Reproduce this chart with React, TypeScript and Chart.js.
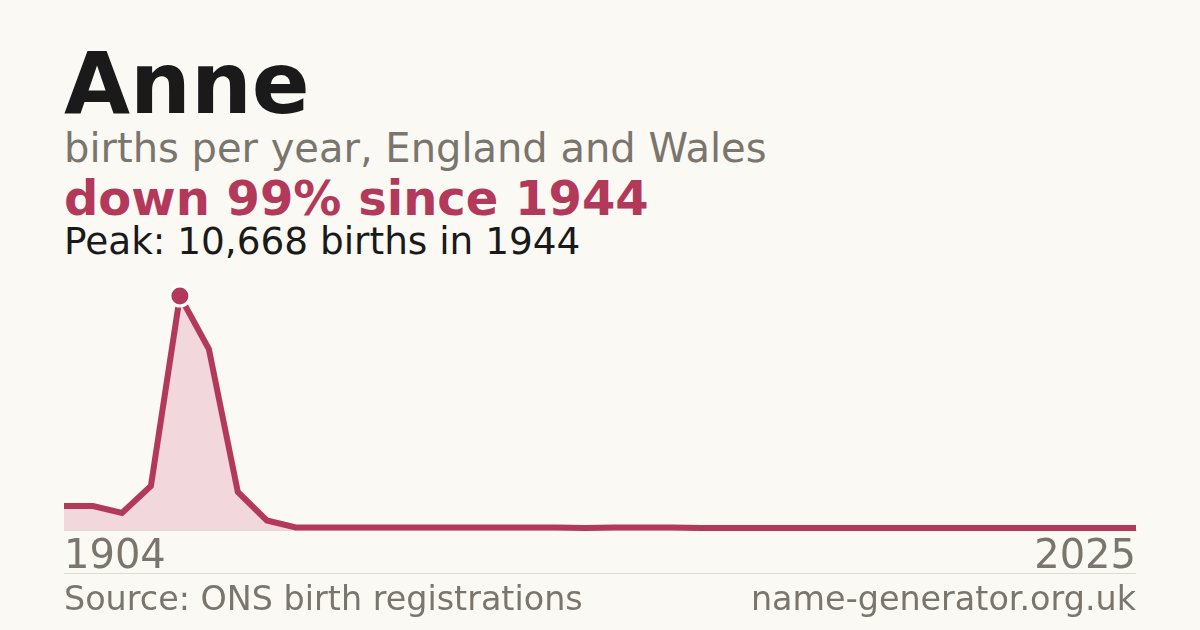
import { useEffect, useRef } from 'react'
import { Chart, registerables } from 'chart.js'

Chart.register(...registerables)

// years in the ONS series: decades first, then yearly
const years: string[] = [
  '1904', '1914', '1924', '1934', '1944', '1954', '1964', '1974', '1984', '1994',
  '1998', '1999', '2000', '2001', '2002', '2003', '2004', '2005', '2006', '2007',
  '2008', '2009', '2010', '2011', '2012', '2013', '2014', '2015', '2016', '2017',
  '2018', '2019', '2020', '2021', '2022', '2023', '2024', '2025',
]

// births per year
const births: number[] = [
  1094, 1094, 775, 2006, 10668, 8254, 1733, 433, 118, 116,
  115, 117, 114, 116, 115, 113, 114, 112, 92, 110,
  112, 111, 96, 94, 95, 93, 92, 94, 93, 91,
  92, 90, 91, 89, 90, 88, 87, 86,
]

const peakIndex = 4
const tickLabels: string[] = ['1904', '2025']

const RED = '#b3395a'
const FONT = '"DejaVu Sans", sans-serif'

function LineChart() {
  const ref = useRef<HTMLCanvasElement>(null)

  useEffect(() => {
    if (!ref.current) return
    const last = years.length - 1
    const chart = new Chart(ref.current, {
      type: 'line',
      data: {
        labels: years,
        datasets: [
          {
            data: births,
            borderColor: RED,
            borderWidth: 6,
            borderJoinStyle: 'miter',
            backgroundColor: '#f2d7dc',
            fill: 'origin',
            tension: 0,
            clip: false,
            pointRadius: births.map((_, i) => (i === peakIndex ? 10 : 0)),
            pointBackgroundColor: RED,
            pointBorderColor: '#ffffff',
            pointBorderWidth: 3,
          },
        ],
      },
      options: {
        animation: false,
        responsive: true,
        maintainAspectRatio: false,
        layout: { autoPadding: false, padding: { top: 16, left: 0, right: 0, bottom: 0 } },
        plugins: { legend: { display: false }, tooltip: { enabled: false } },
        scales: {
          x: {
            offset: false,
            grid: { display: false, drawTicks: false },
            border: { display: true, color: '#dedbd3', width: 1 },
            ticks: {
              autoSkip: false,
              maxRotation: 0,
              align: 'inner',
              padding: 4,
              color: '#7a756d',
              font: { family: FONT, size: 40 },
              callback: (_v, i) => (i === 0 ? tickLabels[0] : i === last ? tickLabels[1] : ''),
            },
          },
          y: {
            display: false,
            min: 0,
            max: 10668,
          },
        },
      },
    })
    return () => chart.destroy()
  }, [])

  return <canvas ref={ref} />
}

const text = (top: number, size: number, color: string, weight = 400): React.CSSProperties => ({
  position: 'absolute',
  left: 64,
  top,
  fontSize: size,
  lineHeight: 1,
  color,
  fontWeight: weight,
  whiteSpace: 'nowrap',
})

export default function App() {
  return (
    <div
      style={{
        position: 'fixed',
        left: 0,
        top: 0,
        width: 1200,
        height: 630,
        background: '#faf9f4',
        fontFamily: FONT,
        overflow: 'hidden',
      }}
    >
      <div style={text(40.8, 85.4, '#1a1a1a', 700)}>Anne</div>
      <div style={text(128, 40, '#7a756d')}>births per year, England and Wales</div>
      <div style={text(174.4, 48, RED, 700)}>down 99% since 1944</div>
      <div style={text(223.4, 37.4, '#1a1a1a')}>Peak: 10,668 births in 1944</div>
      {/* tick padding also pads the sides, so the box is 4px wider each way */}
      <div style={{ position: 'absolute', left: 60, top: 280, width: 1080, height: 306 }}>
        <LineChart />
      </div>
      <div style={{ position: 'absolute', left: 64, top: 573, width: 1072, height: 1, background: '#dedbd3' }} />
      <div style={text(581.7, 33.4, '#7a756d')}>Source: ONS birth registrations</div>
      <div style={{ ...text(581.7, 33.4, '#7a756d'), left: 'auto', right: 64 }}>name-generator.org.uk</div>
    </div>
  )
}
